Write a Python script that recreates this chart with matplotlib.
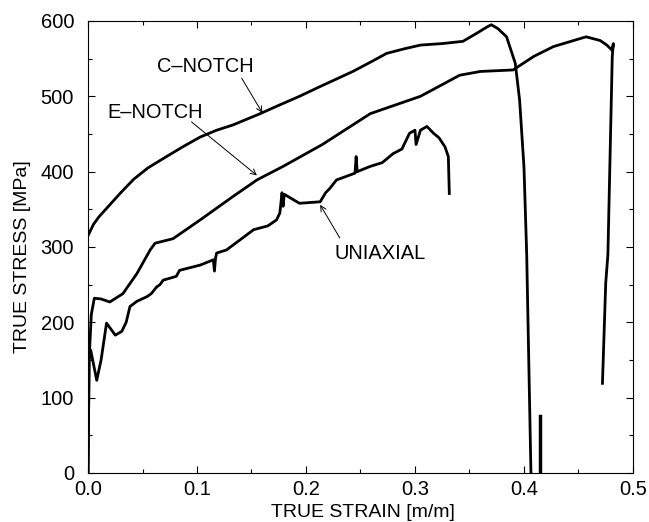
import numpy as np
import matplotlib.pyplot as plt
from matplotlib.ticker import MultipleLocator

plt.rcParams['font.family'] = ['Liberation Sans', 'DejaVu Sans']

# C-NOTCH curve
cn_strain = [0.0, 0.005, 0.010, 0.020, 0.030, 0.042, 0.055, 0.072, 0.087, 0.103, 0.118,
             0.133, 0.158, 0.175, 0.194, 0.213, 0.243, 0.260, 0.274, 0.290, 0.305,
             0.325, 0.344, 0.357, 0.366, 0.370, 0.376, 0.384, 0.392, 0.396,
             0.400, 0.4025, 0.4064]
cn_stress = [315, 330, 340, 356, 372, 390, 405, 420, 433, 446, 455,
             462, 477, 488, 500, 513, 533, 546, 557, 563, 568,
             570, 573, 584, 592, 595, 590, 579, 544, 495,
             406, 290, 0]
# short piece near 0.415
cn_tail_strain = [0.4147, 0.4147]
cn_tail_stress = [0, 75]

# E-NOTCH curve
en_strain = [0.0, 0.001, 0.003, 0.0058, 0.012, 0.020, 0.032, 0.045, 0.057, 0.0615, 0.078,
             0.103, 0.133, 0.155, 0.179, 0.215, 0.259, 0.305, 0.341, 0.360, 0.390,
             0.409, 0.427, 0.457, 0.470, 0.476, 0.481, 0.482, 0.481, 0.477, 0.475, 0.472]
en_stress = [0, 150, 210, 232, 231, 227, 238, 265, 296, 305, 311,
             336, 367, 389, 407, 436, 477, 500, 528, 533, 535,
             553, 566, 579, 574, 568, 561, 570, 553, 290, 252, 119]

# UNIAXIAL curve
uni_strain = [0.0, 0.001, 0.0025, 0.008, 0.012, 0.017, 0.020, 0.025, 0.031, 0.035, 0.0385,
              0.045, 0.054, 0.058, 0.063, 0.066, 0.069, 0.081, 0.084, 0.103, 0.115, 0.116,
              0.117, 0.118, 0.127, 0.140, 0.152, 0.165, 0.173, 0.176, 0.178, 0.179, 0.180,
              0.194, 0.213, 0.218, 0.222, 0.228, 0.245, 0.246, 0.247, 0.259, 0.270, 0.280,
              0.288, 0.295, 0.300, 0.301, 0.305, 0.311, 0.317, 0.322, 0.3275, 0.3306, 0.3315]
uni_stress = [0, 150, 163, 123, 150, 199, 193, 183, 188, 200, 221,
              228, 234, 238, 247, 250, 256, 261, 269, 276, 283, 268,
              285, 292, 296, 310, 323, 328, 336, 345, 372, 354, 370,
              358, 360, 372, 378, 389, 398, 420, 400, 407, 412, 424,
              430, 451, 455, 436, 455, 460, 451, 445, 433, 420, 371]

fig = plt.figure(figsize=(6.49, 5.22), dpi=100)
ax = fig.add_axes([0.1356, 0.0939, 0.8397, 0.8659])

ax.plot(cn_strain, cn_stress, color='black', lw=2)
ax.plot(cn_tail_strain, cn_tail_stress, color='black', lw=2.5)
ax.plot(en_strain, en_stress, color='black', lw=2)
ax.plot(uni_strain, uni_stress, color='black', lw=2)

ax.set_xlim(0, 0.5)
ax.set_ylim(0, 600)
ax.xaxis.set_minor_locator(MultipleLocator(0.05))
ax.yaxis.set_major_locator(MultipleLocator(100))
ax.yaxis.set_minor_locator(MultipleLocator(50))
ax.set_xticks(np.arange(0, 0.51, 0.1))
ax.set_xticklabels(['0.0', '0.1', '0.2', '0.3', '0.4', '0.5'])
ax.tick_params(which='both', direction='in', top=True, right=True, labelsize=14.5, width=0.8)
ax.tick_params(which='major', length=5)
ax.tick_params(which='minor', length=3)
ax.tick_params(axis='x', which='major', pad=5)
ax.tick_params(axis='y', which='major', pad=10)
for s in ax.spines.values():
    s.set_linewidth(0.8)

ax.set_xlabel('TRUE STRAIN [m/m]', fontsize=14, va='center')
ax.set_ylabel('TRUE STRESS [MPa]', fontsize=14, va='center')
ax.xaxis.set_label_coords(0.504, -0.0885)
ax.yaxis.set_label_coords(-0.121, 0.478)

arrow = dict(arrowstyle='->', color='black', lw=0.7, shrinkA=0, shrinkB=0)
ax.text(0.108, 539, 'C\u2013NOTCH', ha='center', va='center', fontsize=14.4)
ax.annotate('', xy=(0.160, 478), xytext=(0.141, 524), arrowprops=arrow)
ax.text(0.062, 478, 'E\u2013NOTCH', ha='center', va='center', fontsize=14.4)
ax.annotate('', xy=(0.155, 395), xytext=(0.095, 466), arrowprops=arrow)
ax.text(0.268, 292, 'UNIAXIAL', ha='center', va='center', fontsize=14.4)
ax.annotate('', xy=(0.213, 356), xytext=(0.231, 312), arrowprops=arrow)

plt.savefig('out.png', dpi=100)
